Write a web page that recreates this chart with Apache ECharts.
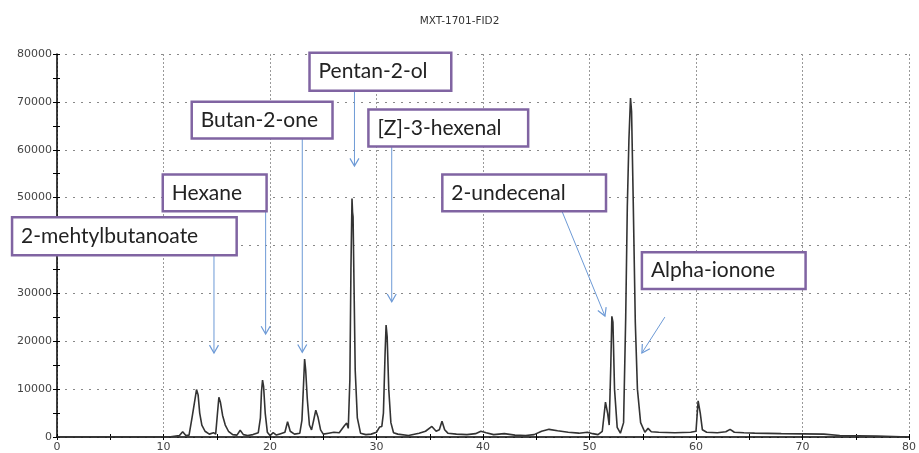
<!DOCTYPE html>
<html>
<head>
<meta charset="utf-8">
<script src="https://cdn.jsdelivr.net/npm/echarts@6/dist/echarts.min.js"></script>
<style>
  html, body { margin: 0; padding: 0; background: #ffffff; }
  #chart { width: 919px; height: 453px; }
</style>
</head>
<body>
<div id="chart"></div>
<script>
// ---- Data ----
var chartTitle = 'MXT-1701-FID2';
var xTicks = [0, 10, 20, 30, 40, 50, 60, 70, 80];
var yTicks = [0, 10000, 20000, 30000, 40000, 50000, 60000, 70000, 80000];

// retention time (min) / detector signal pairs
var chromatogram = [
  [0,0],[10.5,0],[11.0,150],[11.5,300],[11.8,1100],[12.1,300],[12.4,400],[12.7,4300],[12.85,4500],
  [13.0,8500],[13.1,9900],[13.25,8800],[13.4,5000],[13.6,2500],[13.9,1200],[14.3,600],[14.7,900],
  [14.9,600],[15.05,4500],[15.2,8300],[15.35,7200],[15.55,4500],[15.8,2500],[16.1,1200],[16.5,500],
  [16.9,400],[17.2,1400],[17.5,500],[17.9,300],[18.4,500],[18.9,900],[19.1,4000],[19.2,9500],
  [19.3,11900],[19.4,10500],[19.55,5000],[19.75,1000],[20.0,300],[20.3,900],[20.6,400],[21.0,700],
  [21.4,1000],[21.65,3200],[21.9,1200],[22.3,600],[22.8,800],[23.0,3500],[23.15,11000],[23.25,16300],
  [23.35,14000],[23.5,8000],[23.7,2500],[23.9,1500],[24.1,3500],[24.3,5600],[24.5,4200],[24.75,1500],
  [25.0,600],[25.5,800],[26.0,1000],[26.5,900],[27.0,2400],[27.2,2900],[27.35,1800],[27.5,12000],
  [27.6,35000],[27.7,49800],[27.75,47000],[27.8,46000],[27.9,30000],[28.0,14000],[28.2,4000],
  [28.5,800],[29.0,500],[29.5,600],[30.0,1000],[30.3,2100],[30.5,2200],[30.65,5000],[30.8,17000],
  [30.9,23400],[31.0,21000],[31.15,10000],[31.35,3000],[31.6,900],[32.0,600],[33.0,300],[34.0,800],
  [34.6,1200],[35.2,2200],[35.6,1200],[35.9,1500],[36.15,3300],[36.4,1500],[36.7,800],[37.5,600],
  [38.5,500],[39.3,700],[39.8,1200],[40.3,900],[41,500],[42,700],[43,400],[44,300],[44.8,500],
  [45.5,1200],[46.2,1600],[47,1300],[48,1000],[49,800],[49.8,1000],[50.3,700],[50.8,500],[51.2,1200],
  [51.5,7300],[51.7,5000],[51.85,2500],[52.0,15000],[52.1,25200],[52.2,24000],[52.35,10000],
  [52.6,2000],[52.9,800],[53.2,3000],[53.4,25000],[53.55,48000],[53.7,62000],[53.85,70800],
  [53.95,68000],[54.1,50000],[54.3,24000],[54.5,10000],[54.8,3000],[55.2,1000],[55.5,1800],
  [55.8,1100],[56.5,1000],[58,900],[59.5,1000],[60.0,1200],[60.2,7560],[60.3,7300],[60.4,5000],
  [60.6,1500],[61.0,1000],[62.0,900],[62.8,1100],[63.2,1600],[63.6,1000],[64.5,900],[65.5,800],
  [68,700],[72,600],[73.5,300],[77,200],[80,0]
];

// annotation labels, boxes (data coords: left, right, top, bottom) and arrows (tail -> tip)
var annLabels = ['Pentan-2-ol', 'Butan-2-one', '[Z]-3-hexenal', 'Hexane', '2-mehtylbutanoate', '2-undecenal', 'Alpha-ionone'];
var annBoxes = [
  [23.71, 37.02, 80258, 72343],
  [12.65, 25.87, 70051, 62344],
  [29.24, 44.24, 68385, 60678],
  [9.93, 19.68, 54845, 47138],
  [-4.22, 16.87, 45888, 37973],
  [36.18, 51.55, 54845, 47138],
  [54.92, 70.29, 38598, 30892]
];
var annArrows = [
  [27.93, 72343, 27.93, 56574],
  [23.03, 62344, 23.03, 17706],
  [31.43, 60678, 31.43, 28245],
  [19.59, 47138, 19.59, 21517],
  [14.74, 37973, 14.74, 17560],
  [47.42, 47138, 51.45, 25267],
  [57.08, 25058, 54.92, 17560]
];

var chart = echarts.init(document.getElementById('chart'), null, { renderer: 'canvas' });

var axisFont = { fontFamily: 'DejaVu Sans', fontSize: 11, color: '#444' };

var option = {
  animation: false,
  backgroundColor: '#ffffff',
  title: {
    text: chartTitle, left: 'center', top: 11,
    textStyle: { fontFamily: 'DejaVu Sans', fontSize: 10.5, fontWeight: 'normal', color: '#333' }
  },
  grid: { left: 57, right: 8, top: 54, bottom: 15, containLabel: false },
  xAxis: [{
    type: 'value', min: xTicks[0], max: xTicks[xTicks.length - 1], interval: 10,
    axisLine: { show: true, onZero: false, lineStyle: { color: '#000', width: 1.5 } },
    axisTick: { show: true, length: 3, lineStyle: { color: '#000' } },
    minorTick: { show: true, splitNumber: 2, length: 3, lineStyle: { color: '#000' } },
    axisLabel: Object.assign({ margin: 5, formatter: function (v) { return String(v); } }, axisFont),
    splitLine: { show: true, lineStyle: { color: '#999', type: [2, 2], width: 1 } }
  }, {
    type: 'value', min: xTicks[0], max: xTicks[xTicks.length - 1], interval: 10, position: 'bottom',
    axisLine: { show: false },
    axisTick: { show: true, inside: true, length: 3, lineStyle: { color: '#000' } },
    minorTick: { show: true, splitNumber: 2, length: 3, lineStyle: { color: '#000' } },
    axisLabel: { show: false }, splitLine: { show: false }
  }],
  yAxis: [{
    type: 'value', min: yTicks[0], max: yTicks[yTicks.length - 1], interval: 10000,
    axisLine: { show: true, onZero: false, lineStyle: { color: '#000', width: 1.5 } },
    axisTick: { show: true, length: 4, lineStyle: { color: '#000' } },
    minorTick: { show: true, splitNumber: 2, length: 4, lineStyle: { color: '#000' } },
    axisLabel: Object.assign({ margin: 5, formatter: function (v) { return String(v); } }, axisFont),
    splitLine: { show: true, lineStyle: { color: '#888', type: [2, 6], width: 1.2 } }
  }, {
    type: 'value', min: yTicks[0], max: yTicks[yTicks.length - 1], interval: 10000, position: 'left',
    axisLine: { show: false },
    axisTick: { show: true, inside: true, length: 3, lineStyle: { color: '#000' } },
    minorTick: { show: true, splitNumber: 2, length: 3, lineStyle: { color: '#000' } },
    axisLabel: { show: false }, splitLine: { show: false }
  }],
  series: [{
    type: 'line', xAxisIndex: 0, yAxisIndex: 0,
    data: chromatogram, showSymbol: false, smooth: false,
    lineStyle: { color: '#333', width: 1.6 }, z: 3
  }]
};
chart.setOption(option);

function px(x, y) { return chart.convertToPixel({ gridIndex: 0 }, [x, y]); }

var graphics = [];
var arrowColor = '#6D9AD6';
for (var i = 0; i < annLabels.length; i++) {
  var b = annBoxes[i];
  var tl = px(b[0], b[2]);
  var br = px(b[1], b[3]);
  graphics.push({
    type: 'rect', z: 100,
    shape: { x: tl[0], y: tl[1], width: br[0] - tl[0], height: br[1] - tl[1] },
    style: { fill: '#ffffff', stroke: '#8064A2', lineWidth: 2.5 }
  });
  graphics.push({
    type: 'text', z: 101,
    x: tl[0] + 9, y: (tl[1] + br[1]) / 2,
    style: { text: annLabels[i], fontFamily: 'Lato', fontSize: 21, fill: '#222', verticalAlign: 'middle', align: 'left' }
  });
  var a = annArrows[i];
  var p0 = px(a[0], a[1]);
  var p1 = px(a[2], a[3]);
  graphics.push({
    type: 'line', z: 99,
    shape: { x1: p0[0], y1: p0[1], x2: p1[0], y2: p1[1] },
    style: { stroke: arrowColor, lineWidth: 1 }
  });
  var ang = Math.atan2(p1[1] - p0[1], p1[0] - p0[0]);
  var hl = 9, ha = Math.PI / 6;
  graphics.push({
    type: 'polyline', z: 99,
    shape: { points: [
      [p1[0] - hl * Math.cos(ang - ha), p1[1] - hl * Math.sin(ang - ha)],
      [p1[0], p1[1]],
      [p1[0] - hl * Math.cos(ang + ha), p1[1] - hl * Math.sin(ang + ha)]
    ] },
    style: { stroke: arrowColor, lineWidth: 1.2, fill: null }
  });
}
chart.setOption({ graphic: graphics });
</script>
</body>
</html>
